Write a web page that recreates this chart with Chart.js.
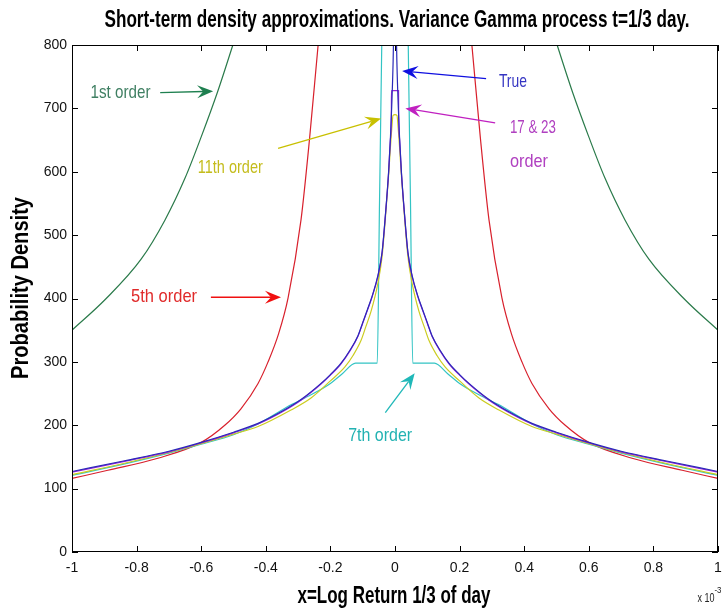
<!DOCTYPE html>
<html>
<head>
<meta charset="utf-8">
<script src="https://cdn.jsdelivr.net/npm/chart.js@4.4.1/dist/chart.umd.min.js"></script>
<style>
    html, body { margin: 0; padding: 0; background: #fff; }
    canvas { display: block; }
</style>
</head>
<body>
<canvas id="myChart" width="722" height="616"></canvas>
<script>
// x values are in units of 1e-3 (the axis shows "x 10^-3")
let xTicks = [-1, -0.8, -0.6, -0.4, -0.2, 0, 0.2, 0.4, 0.6, 0.8, 1];
let yTicks = [0, 100, 200, 300, 400, 500, 600, 700, 800];

// True density (blue)
let trueX = [-1, -0.837, -0.7, -0.6, -0.5, -0.424, -0.35, -0.29, -0.229, -0.2, -0.167, -0.14, -0.115, -0.1, -0.085, -0.07, -0.053, -0.04, -0.03, -0.02, -0.014, -0.01, -0.006, -0.003, 0,
             0.003, 0.006, 0.01, 0.014, 0.02, 0.03, 0.04, 0.053, 0.07, 0.085, 0.1, 0.115, 0.14, 0.167, 0.2, 0.229, 0.29, 0.35, 0.424, 0.5, 0.6, 0.7, 0.837, 1];
let trueY = [127, 144, 159, 173, 189, 203, 222, 241, 266, 280, 298, 318, 341, 362, 383, 405, 436, 473, 530, 598, 655, 705, 770, 850, 1000,
             850, 770, 705, 655, 598, 530, 473, 436, 405, 383, 362, 341, 318, 298, 280, 266, 241, 222, 203, 189, 173, 159, 144, 127];

// 17 & 23 order (purple)
let ord17X = [-1, -0.837, -0.7, -0.6, -0.5, -0.424, -0.35, -0.29, -0.229, -0.2, -0.167, -0.14, -0.115, -0.1, -0.085, -0.07, -0.053, -0.04, -0.03, -0.02, -0.014, -0.0113, -0.011, 0,
              0.011, 0.0113, 0.014, 0.02, 0.03, 0.04, 0.053, 0.07, 0.085, 0.1, 0.115, 0.14, 0.167, 0.2, 0.229, 0.29, 0.35, 0.424, 0.5, 0.6, 0.7, 0.837, 1];
let ord17Y = [126, 143, 158, 172, 188, 202, 221, 240, 265, 279, 297, 317, 340, 361, 382, 404, 435, 472, 529, 597, 652, 690, 728, 728,
              728, 690, 652, 597, 529, 472, 435, 404, 382, 361, 340, 317, 297, 279, 265, 240, 221, 202, 188, 172, 158, 143, 126];

// 11th order (yellow)
let ord11X = [-1, -0.837, -0.7, -0.6, -0.5, -0.424, -0.322, -0.26, -0.2, -0.155, -0.13, -0.105, -0.09, -0.074, -0.053, -0.04, -0.03, -0.02, -0.015, -0.01, -0.006, 0,
              0.006, 0.01, 0.015, 0.02, 0.03, 0.04, 0.053, 0.074, 0.09, 0.105, 0.13, 0.155, 0.2, 0.26, 0.322, 0.424, 0.5, 0.6, 0.7, 0.837, 1];
let ord11Y = [122, 140, 157, 171, 186, 198, 224, 243, 270, 292, 310, 334, 356, 380, 424, 466, 525, 593, 632, 668, 689, 690,
              689, 668, 632, 593, 525, 466, 424, 380, 356, 334, 310, 292, 270, 243, 224, 198, 186, 171, 157, 140, 122];

// 7th order (cyan)
let ord7X = [-1, -0.837, -0.7, -0.6, -0.5, -0.424, -0.319, -0.26, -0.2, -0.164, -0.122, -0.09, -0.055, -0.048, -0.041, -0.03, 0,
             0.03, 0.041, 0.048, 0.055, 0.09, 0.122, 0.164, 0.2, 0.26, 0.319, 0.424, 0.5, 0.6, 0.7, 0.837, 1];
let ord7Y = [121, 139, 156, 170, 185, 202, 233, 248, 266, 281, 298, 298, 298, 550, 800, 1200, 1500,
             1200, 800, 550, 298, 298, 298, 281, 266, 248, 233, 202, 185, 170, 156, 139, 121];

// 5th order (red)
let ord5X = [-1, -0.889, -0.734, -0.6, -0.527, -0.477, -0.424, -0.393, -0.36, -0.331, -0.291, -0.264, -0.238, -0.2, -0.15, 0,
             0.15, 0.2, 0.238, 0.264, 0.291, 0.331, 0.36, 0.393, 0.424, 0.477, 0.527, 0.6, 0.734, 0.889, 1];
let ord5Y = [116, 129, 148, 173, 200, 226, 266, 300, 345, 401, 524, 655, 800, 1000, 1300, 2000,
             1300, 1000, 800, 655, 524, 401, 345, 300, 266, 226, 200, 173, 148, 129, 116];

// 1st order (green)
let ord1X = [-1, -0.898, -0.786, -0.712, -0.65, -0.6, -0.55, -0.502, -0.45, -0.4, -0.3, 0,
             0.3, 0.4, 0.45, 0.502, 0.55, 0.6, 0.65, 0.712, 0.786, 0.898, 1];
let ord1Y = [350, 398, 462, 524, 590, 655, 725, 800, 885, 975, 1180, 2500,
             1180, 975, 885, 800, 725, 655, 590, 524, 462, 398, 350];

// text labels and arrows placed in data coordinates
let notes = [
    {text: "1st order", x: -0.85, y: 725, color: "#3f7f62", w: 60},
    {text: "11th order", x: -0.51, y: 607, color: "#c4bc1c", w: 65},
    {text: "5th order", x: -0.715, y: 402, color: "#e02a2a", w: 66},
    {text: "True", x: 0.365, y: 742, color: "#3535c2", w: 28},
    {text: "17 & 23", x: 0.427, y: 669, color: "#b040c0", w: 46},
    {text: "order", x: 0.415, y: 615, color: "#b040c0", w: 38},
    {text: "7th order", x: -0.046, y: 183, color: "#22b2b2", w: 64}
];
let arrows = [
    {x1: -0.727, y1: 725, x2: -0.563, y2: 727, color: "#1f8050"},
    {x1: -0.362, y1: 637, x2: -0.043, y2: 684, color: "#c8c000"},
    {x1: -0.57, y1: 402, x2: -0.353, y2: 402, color: "#f01010"},
    {x1: 0.282, y1: 747, x2: 0.022, y2: 759, color: "#1010e0"},
    {x1: 0.31, y1: 677, x2: 0.032, y2: 700, color: "#c020c0"},
    {x1: -0.03, y1: 220, x2: 0.061, y2: 282, color: "#20b8b8"}
];


function points(xs, ys) {
    let out = [];
    for (let i = 0; i < xs.length; i++) {
        out.push({x: xs[i], y: ys[i]});
    }
    return out;
}

function fitText(ctx, str, cx, cy, font, color, w, rot) {
    ctx.save();
    ctx.font = font;
    ctx.fillStyle = color;
    ctx.textAlign = "center";
    ctx.textBaseline = "middle";
    let sx = w / ctx.measureText(str).width;
    ctx.translate(cx, cy);
    if (rot) ctx.rotate(rot);
    ctx.scale(sx, 1);
    ctx.fillText(str, 0, 0);
    ctx.restore();
}

function drawArrow(ctx, x1, y1, x2, y2, color) {
    let a = Math.atan2(y2 - y1, x2 - x1);
    let ux = Math.cos(a), uy = Math.sin(a);
    let nx = -uy, ny = ux;
    let L = 16, W = 6.5, back = 10;
    ctx.save();
    ctx.strokeStyle = color;
    ctx.fillStyle = color;
    ctx.lineWidth = 1.3;
    ctx.beginPath();
    ctx.moveTo(x1, y1);
    ctx.lineTo(x2 - back * ux, y2 - back * uy);
    ctx.stroke();
    ctx.beginPath();
    ctx.moveTo(x2, y2);
    ctx.lineTo(x2 - L * ux + W * nx, y2 - L * uy + W * ny);
    ctx.lineTo(x2 - back * ux, y2 - back * uy);
    ctx.lineTo(x2 - L * ux - W * nx, y2 - L * uy - W * ny);
    ctx.closePath();
    ctx.fill();
    ctx.restore();
}

// box, inward ticks, titles and annotations
const decorPlugin = {
    id: "decor",
    beforeDraw(chart) {
        let ctx = chart.ctx;
        ctx.save();
        ctx.fillStyle = "#fff";
        ctx.fillRect(0, 0, chart.width, chart.height);
        ctx.restore();
    },
    afterDatasetsDraw(chart) {
        let ctx = chart.ctx;
        let a = chart.chartArea;
        let xs = chart.scales.x, ys = chart.scales.y;

        ctx.save();
        ctx.strokeStyle = "#000";
        ctx.lineWidth = 1;
        ctx.strokeRect(a.left + 0.5, a.top + 0.5, a.right - a.left - 1, a.bottom - a.top - 1);
        ctx.beginPath();
        xs.ticks.forEach(t => {
            let px = Math.round(xs.getPixelForValue(t.value)) + 0.5;
            ctx.moveTo(px, a.bottom); ctx.lineTo(px, a.bottom - 6);
            ctx.moveTo(px, a.top); ctx.lineTo(px, a.top + 6);
        });
        ys.ticks.forEach(t => {
            let py = Math.round(ys.getPixelForValue(t.value)) + 0.5;
            ctx.moveTo(a.left, py); ctx.lineTo(a.left + 6, py);
            ctx.moveTo(a.right, py); ctx.lineTo(a.right - 6, py);
        });
        ctx.stroke();
        ctx.restore();

        ctx.save();
        ctx.beginPath();
        ctx.rect(a.left, a.top, a.right - a.left, a.bottom - a.top);
        ctx.clip();
        arrows.forEach(r => {
            drawArrow(ctx, xs.getPixelForValue(r.x1), ys.getPixelForValue(r.y1),
                xs.getPixelForValue(r.x2), ys.getPixelForValue(r.y2), r.color);
        });
        notes.forEach(n => {
            fitText(ctx, n.text, xs.getPixelForValue(n.x), ys.getPixelForValue(n.y),
                "19px 'Liberation Sans', Arial, sans-serif", n.color, n.w);
        });
        ctx.restore();

        fitText(ctx, "Short-term density approximations. Variance Gamma process t=1/3 day.",
            397, 20, "bold 24px 'Liberation Sans', Arial, sans-serif", "#000", 585);
        fitText(ctx, "x=Log Return 1/3 of day",
            394, 597, "bold 23px 'Liberation Sans', Arial, sans-serif", "#000", 193);
        fitText(ctx, "Probability Density",
            22, 288, "bold 23px 'Liberation Sans', Arial, sans-serif", "#000", 182, -Math.PI / 2);
        fitText(ctx, "x 10", 706, 599, "12px 'Liberation Sans', Arial, sans-serif", "#222", 17);
        fitText(ctx, "-3", 718, 591, "9px 'Liberation Sans', Arial, sans-serif", "#222", 7);
    }
};

function line(label, xs, ys, color) {
    return {
        label: label,
        data: points(xs, ys),
        borderColor: color,
        borderWidth: 1.2,
        pointRadius: 0,
        fill: false,
        cubicInterpolationMode: "monotone"
    };
}

let data = {
    datasets: [
        line("True", trueX, trueY, "#2a2ab8"),
        line("17 & 23 order", ord17X, ord17Y, "#9a24d8"),
        line("11th order", ord11X, ord11Y, "#cccc20"),
        line("7th order", ord7X, ord7Y, "#33c4c4"),
        line("5th order", ord5X, ord5Y, "#d8202c"),
        line("1st order", ord1X, ord1Y, "#2a7a4a")
    ]
};

let config = {
    type: "line",
    data: data,
    options: {
        responsive: false,
        animation: false,
        events: [],
        layout: {padding: {left: 0, right: 4, top: 45, bottom: 0}},
        plugins: {
            legend: {display: false},
            tooltip: {enabled: false},
            title: {display: false}
        },
        scales: {
            x: {
                type: "linear",
                min: -1,
                max: 1,
                afterFit: s => { s.height = 64; s.paddingLeft = 0; s.paddingRight = 0; },
                afterBuildTicks: s => { s.ticks = xTicks.map(v => ({value: v})); },
                grid: {display: false, drawTicks: false},
                border: {display: false},
                ticks: {
                    padding: 8,
                    color: "#111",
                    maxRotation: 0,
                    autoSkip: false,
                    font: {family: "'Liberation Sans', Arial, sans-serif", size: 14},
                    callback: v => String(Math.round(v * 10) / 10)
                }
            },
            y: {
                min: 0,
                max: 800,
                afterFit: s => { s.width = 72; s.paddingTop = 0; s.paddingBottom = 0; },
                afterBuildTicks: s => { s.ticks = yTicks.map(v => ({value: v})); },
                grid: {display: false, drawTicks: false},
                border: {display: false},
                ticks: {
                    padding: 5,
                    color: "#111",
                    font: {family: "'Liberation Sans', Arial, sans-serif", size: 14}
                }
            }
        }
    },
    plugins: [decorPlugin]
};

let myChart = new Chart(document.getElementById("myChart"), config);
</script>
</body>
</html>
